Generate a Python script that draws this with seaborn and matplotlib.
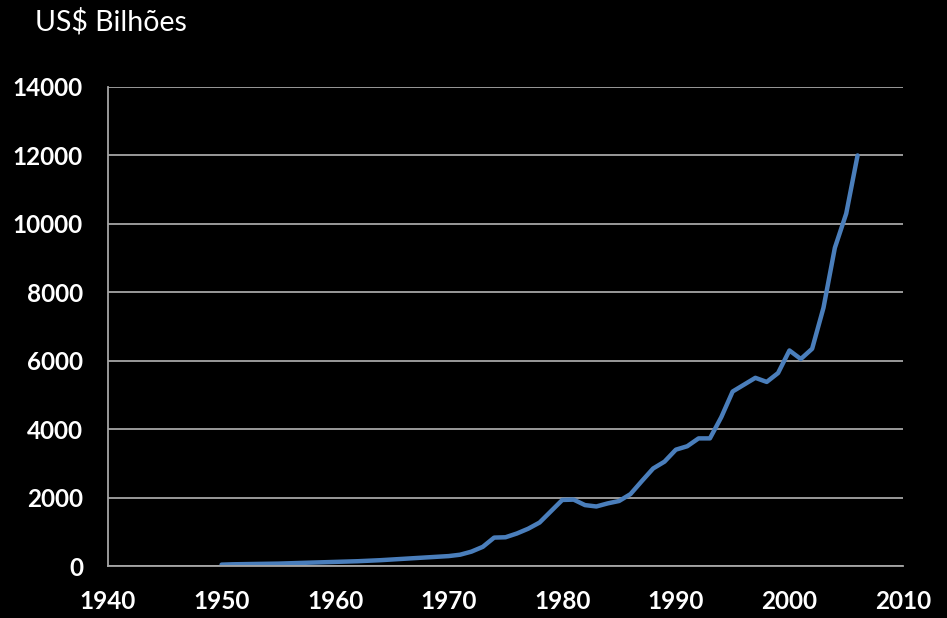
import matplotlib
matplotlib.use("Agg")
import matplotlib.pyplot as plt
import seaborn as sns
import pandas as pd

years = list(range(1950, 2007))
values = [40, 50, 55, 60, 65, 70, 80, 90, 100, 110,
          120, 130, 140, 155, 170, 190, 210, 230, 250, 270,
          290, 330, 420, 560, 830, 840, 950, 1090, 1270, 1600,
          1930, 1940, 1780, 1740, 1830, 1900, 2100, 2480, 2850, 3050,
          3400, 3500, 3730, 3730, 4350, 5100, 5300, 5500, 5380, 5640,
          6300, 6050, 6350, 7550, 9300, 10300, 12000]
x_ticks = [1940, 1950, 1960, 1970, 1980, 1990, 2000, 2010]
y_ticks = [0, 2000, 4000, 6000, 8000, 10000, 12000, 14000]
title = "US$ Bilhões"

df = pd.DataFrame({"ano": years, "valor": values})

sns.set_style("dark")
plt.rcParams["font.family"] = ["Lato", "DejaVu Sans"]

fig = plt.figure(figsize=(9.47, 6.18), dpi=100, facecolor="black")
ax = fig.add_axes([108/947, 1-566/618, (903-108)/947, (566-87)/618])
ax.set_facecolor("black")

sns.lineplot(data=df, x="ano", y="valor", ax=ax, color="#4a7ebb",
             linewidth=3.2, solid_joinstyle="round", solid_capstyle="round")

ax.set_xlim(1940, 2010)
ax.set_ylim(0, 14000)
ax.set_xticks(x_ticks)
ax.set_yticks(y_ticks)
ax.set_xlabel("")
ax.set_ylabel("")
ax.grid(axis="y", color="#a6a6a6", linewidth=1.3)
ax.grid(axis="x", visible=False)
ax.set_axisbelow(True)
for s in ["top", "right"]:
    ax.spines[s].set_visible(False)
for s in ["left", "bottom"]:
    ax.spines[s].set_visible(True)
    ax.spines[s].set_color("#a6a6a6")
    ax.spines[s].set_linewidth(1.3)
ax.tick_params(axis="both", colors="#a6a6a6", length=6, width=1.3,
               labelcolor="white", labelsize=17.5, direction="out")
ax.tick_params(axis="x", pad=11)
ax.tick_params(axis="y", pad=12)
for lab in ax.get_xticklabels() + ax.get_yticklabels():
    lab.set_fontweight("bold")

fig.text(35/947, 1-22/618, title, color="white", fontsize=20.5,
         va="center", ha="left")

fig.savefig("out.png", dpi=100, facecolor="black")
